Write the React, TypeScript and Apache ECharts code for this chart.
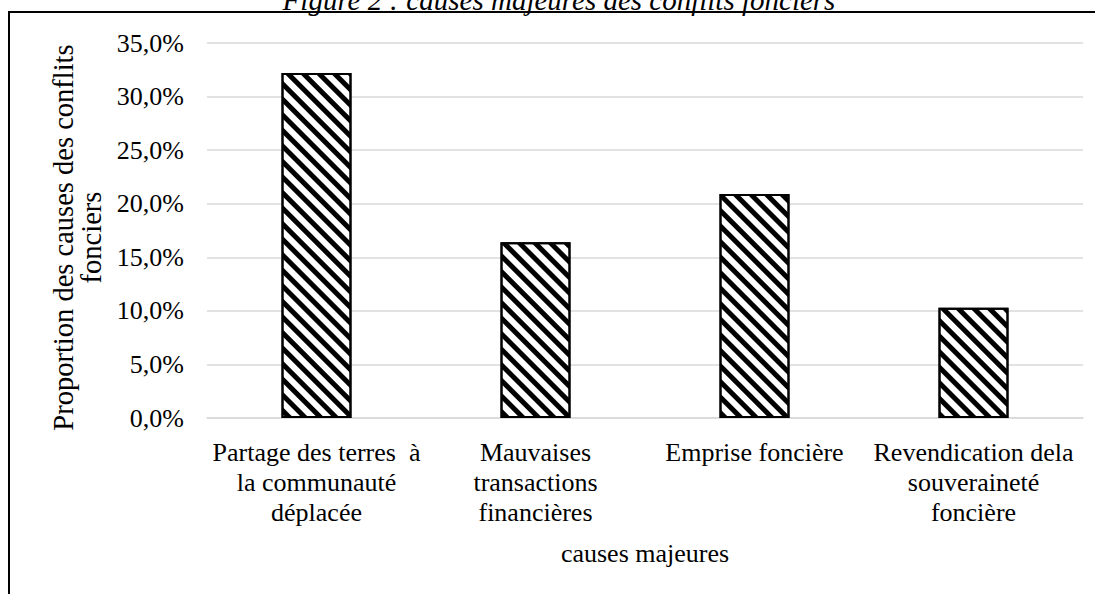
import React, { useEffect, useRef } from "react";
import * as echarts from "echarts";

const categories = [
  "Partage des terres  à\nla communauté\ndéplacée",
  "Mauvaises\ntransactions\nfinancières",
  "Emprise foncière",
  "Revendication dela\nsouveraineté\nfoncière",
];
const values = [32.2, 16.4, 20.9, 10.3];
const yTicks = { min: 0, max: 35, interval: 5 };
const titleText = "Figure 2 : causes majeures des conflits fonciers";
const xAxisTitle = "causes majeures";
const yAxisTitle = "Proportion des causes des conflits\nfonciers";

const FONT = "'Liberation Serif', 'Times New Roman', serif";

export default function App() {
  const ref = useRef<HTMLDivElement>(null);
  useEffect(() => {
    if (!ref.current) return;
    const chart = echarts.init(ref.current, undefined, { renderer: "svg" });
    chart.setOption({
      animation: false,
      backgroundColor: "#fff",
      textStyle: { fontFamily: FONT, color: "#000" },
      graphic: [
        {
          type: "rect",
          shape: { x: 9, y: 12, width: 1100, height: 600 },
          style: { fill: "none", stroke: "#000", lineWidth: 2 },
          z: 0,
        },
        {
          type: "text",
          x: 559,
          y: 0,
          style: {
            text: titleText,
            font: `italic 29px ${FONT}`,
            fill: "#000",
            align: "center",
            verticalAlign: "middle",
          },
        },
      ],
      grid: { left: 207, right: 12, top: 43, bottom: 176, containLabel: false },
      xAxis: {
        type: "category",
        data: categories,
        axisLine: { show: true, lineStyle: { color: "#d9d9d9", width: 1.5 } },
        axisTick: { show: false },
        axisLabel: {
          interval: 0,
          fontSize: 26,
          fontFamily: FONT,
          color: "#000",
          lineHeight: 30,
          margin: 19,
          align: "center",
        },
        name: xAxisTitle,
        nameLocation: "middle",
        nameGap: 122,
        nameTextStyle: { fontSize: 26, fontFamily: FONT, color: "#000" },
      },
      yAxis: {
        type: "value",
        min: yTicks.min,
        max: yTicks.max,
        interval: yTicks.interval,
        axisLine: { show: false },
        axisTick: { show: false },
        splitLine: { lineStyle: { color: "#d9d9d9", width: 1.5 } },
        axisLabel: {
          fontSize: 26,
          fontFamily: FONT,
          color: "#000",
          margin: 23,
          formatter: (v: number) => v.toFixed(1).replace(".", ",") + "%",
        },
        name: yAxisTitle,
        nameLocation: "middle",
        nameGap: 100,
        nameRotate: 90,
        nameTextStyle: {
          fontSize: 28.5,
          fontFamily: FONT,
          color: "#000",
          lineHeight: 28,
          align: "center",
          padding: [0, 14, 0, 0],
        },
      },
      series: [
        {
          type: "bar",
          data: values,
          barWidth: 70,
          itemStyle: {
            color: "#fff",
            borderColor: "#000",
            borderWidth: 2,
            decal: {
              symbol: "rect",
              symbolSize: 1,
              color: "#000",
              backgroundColor: null,
              dashArrayX: [1, 0],
              dashArrayY: [4.5, 6],
              rotation: Math.PI / 4,
            },
          },
        },
      ],
    });
    return () => chart.dispose();
  }, []);
  return (
    <div
      ref={ref}
      style={{ position: "fixed", left: 0, top: 0, width: 1095, height: 594, background: "#fff" }}
    />
  );
}
